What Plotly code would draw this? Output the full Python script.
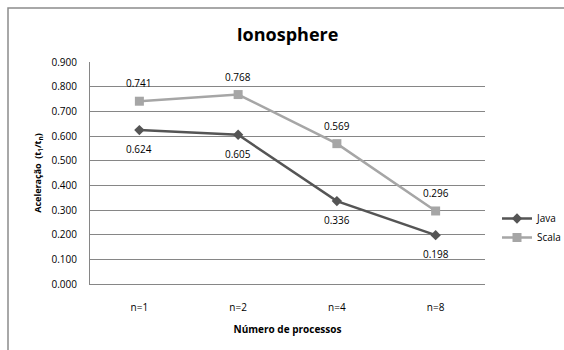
import plotly.graph_objects as go

categories = ["n=1", "n=2", "n=4", "n=8"]
java = [0.624, 0.605, 0.336, 0.198]
scala = [0.741, 0.768, 0.569, 0.296]
y_ticks = [0.0, 0.1, 0.2, 0.3, 0.4, 0.5, 0.6, 0.7, 0.8, 0.9]

W, H = 564, 350
L, R, T, B = 90, 485, 62, 284

FONT = "Open Sans"
JAVA_C = "#555555"
SCALA_C = "#a6a6a6"

fig = go.Figure()
fig.add_trace(go.Scatter(
    x=categories, y=java, name="Java", mode="lines+markers",
    line=dict(color=JAVA_C, width=2.5),
    marker=dict(symbol="diamond", size=8, color=JAVA_C),
))
fig.add_trace(go.Scatter(
    x=categories, y=scala, name="Scala", mode="lines+markers",
    line=dict(color=SCALA_C, width=2.5),
    marker=dict(symbol="square", size=9, color=SCALA_C),
))

for c, v in zip(categories, java):
    fig.add_annotation(x=c, y=v, text=f"{v:.3f}", showarrow=False, yshift=-19,
                       font=dict(family=FONT, size=10, color="#000000"))
for c, v in zip(categories, scala):
    fig.add_annotation(x=c, y=v, text=f"{v:.3f}", showarrow=False, yshift=18,
                       font=dict(family=FONT, size=10, color="#000000"))

px2x = lambda p: (p - L) / (R - L)
px2y = lambda p: (B - p) / (B - T)

fig.add_shape(type="rect", xref="paper", yref="paper",
              x0=px2x(8), x1=px2x(W + 10), y0=px2y(H + 10), y1=px2y(8),
              line=dict(color="#8c8c8c", width=1.5), fillcolor="rgba(0,0,0,0)")

fig.update_layout(
    width=W, height=H,
    margin=dict(l=L, r=W - R, t=T, b=H - B, pad=0, autoexpand=False),
    paper_bgcolor="white", plot_bgcolor="white",
    font=dict(family=FONT, size=10, color="#000000"),
    title=dict(text="<b>Ionosphere</b>", x=0.5, xref="paper", xanchor="center",
               y=1 - 35 / H, yanchor="middle",
               font=dict(family=FONT, size=18, color="#000000")),
    showlegend=True,
    legend=dict(x=px2x(497), y=px2y(204), xanchor="left", yanchor="top",
                font=dict(family=FONT, size=10), bgcolor="rgba(0,0,0,0)",
                itemwidth=30, tracegroupgap=0),
)
fig.update_xaxes(
    type="category", range=[-0.5, 3.5],
    showgrid=False, showline=True, linecolor="#868686", linewidth=1,
    ticks="", ticklabelstandoff=14,
    tickfont=dict(family=FONT, size=10),
    title=dict(text="<b>Número de processos</b>", standoff=12,
               font=dict(family=FONT, size=10)),
    mirror=False, zeroline=False,
)
fig.update_yaxes(
    range=[0, 0.9], tickvals=y_ticks, tickformat=".3f",
    showgrid=True, gridcolor="#868686", gridwidth=1,
    showline=True, linecolor="#868686", linewidth=1,
    zeroline=False, ticks="", ticklabelstandoff=10,
    tickfont=dict(family=FONT, size=10),
    title=dict(text="<b>Aceleração  (t<sub>1</sub>/t<sub>n</sub>)</b>", standoff=8,
               font=dict(family=FONT, size=9)),
)

fig.write_html("out.html")
